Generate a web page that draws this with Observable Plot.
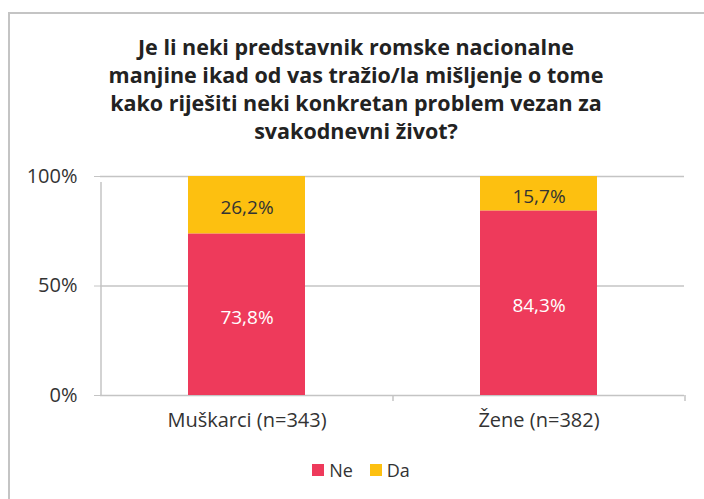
<!DOCTYPE html>
<html>
<head>
<meta charset="utf-8">
<script src="https://cdn.jsdelivr.net/npm/d3@7"></script>
<script src="https://cdn.jsdelivr.net/npm/@observablehq/plot@0.6"></script>
<style>
  html, body { margin: 0; padding: 0; background: #fff; }
  #wrap { position: relative; width: 704px; height: 499px; overflow: hidden; font-family: "Open Sans", Roboto, sans-serif; }
  #frame { position: absolute; left: 8px; top: 12px; width: 720px; height: 520px; border-left: 2px solid #c4c4c4; border-top: 2px solid #c4c4c4; }
  #title { position: absolute; left: 8px; width: 696px; top: 33px; text-align: center; font-weight: 700; font-size: 21.5px; line-height: 28px; color: #222; }
  #chart { position: absolute; left: 0; top: 160px; }
  #legend { position: absolute; top: 458px; left: 0; width: 722px; display: flex; justify-content: center; gap: 17px; font-size: 18px; color: #333; }
  .item { display: flex; align-items: center; gap: 5px; }
  .sw { width: 12px; height: 12px; display: inline-block; }
</style>
</head>
<body>
<div id="wrap">
  <div id="frame"></div>
  <div id="title">Je li neki predstavnik romske nacionalne<br>manjine ikad od vas tražio/la mišljenje o tome<br>kako riješiti neki konkretan problem vezan za<br>svakodnevni život?</div>
  <div id="chart"></div>
  <div id="legend"></div>
</div>
<script>
const categories = ["Muškarci (n=343)", "Žene (n=382)"];
const seriesNames = ["Ne", "Da"];
const neValues = [73.8, 84.3];
const daValues = [26.2, 15.7];
const seriesColors = ["#EE3A5B", "#FDC010"];
const labelColors = ["#ffffff", "#333333"];
const yTicks = [0, 50, 100];

const colorOf = Object.fromEntries(seriesNames.map((s, i) => [s, seriesColors[i]]));
const labelOf = Object.fromEntries(seriesNames.map((s, i) => [s, labelColors[i]]));
const data = [];
categories.forEach((c, i) => {
  data.push({cat: c, series: "Ne", value: neValues[i]});
  data.push({cat: c, series: "Da", value: daValues[i]});
});
const fmt = v => v.toFixed(1).replace(".", ",") + "%";

const W = 704, H = 280, mL = 100, mR = 20, mT = 16, mB = 45;
const step = (W - mL - mR) / categories.length;

const chart = Plot.plot({
  width: W, height: H,
  marginLeft: mL, marginRight: mR, marginTop: mT, marginBottom: mB,
  style: {fontFamily: "'Open Sans', Roboto, sans-serif", fontSize: "20px", color: "#333", background: "transparent", overflow: "visible"},
  x: {domain: categories, paddingInner: 0.6, paddingOuter: 0.3, label: null},
  y: {domain: [0, 100], label: null},
  color: {type: "identity"},
  marks: [
    Plot.ruleY(yTicks, {stroke: "#c4c4c4", strokeWidth: 1.5}),
    Plot.axisY(yTicks, {tickSize: 6, tickPadding: 17, tickFormat: d => d + "%", stroke: "#c4c4c4", fill: "#333", fontSize: 20, label: null}),
    Plot.ruleX([categories[0]], {y1: 0, y2: 100, dx: -step / 2, stroke: "#c4c4c4", strokeWidth: 1.5, insetBottom: -6}),
    Plot.ruleX(categories, {y1: 0, y2: 0, dx: step / 2, stroke: "#c4c4c4", strokeWidth: 1.5, insetBottom: -6}),
    Plot.barY(data, Plot.stackY({x: "cat", y: "value", z: "series", order: seriesNames, fill: d => colorOf[d.series]})),
    Plot.text(data, Plot.stackY({x: "cat", y: "value", z: "series", order: seriesNames, text: d => fmt(d.value), fill: d => labelOf[d.series], fontSize: 19, dy: 3})),
    Plot.axisX({tickSize: 0, tickPadding: 17, fontSize: 20, fill: "#333", label: null})
  ]
});
document.getElementById("chart").appendChild(chart);

const legend = document.getElementById("legend");
seriesNames.forEach((s, i) => {
  const it = document.createElement("div");
  it.className = "item";
  it.innerHTML = `<span class="sw" style="background:${seriesColors[i]}"></span><span>${s}</span>`;
  legend.appendChild(it);
});
</script>
</body>
</html>
